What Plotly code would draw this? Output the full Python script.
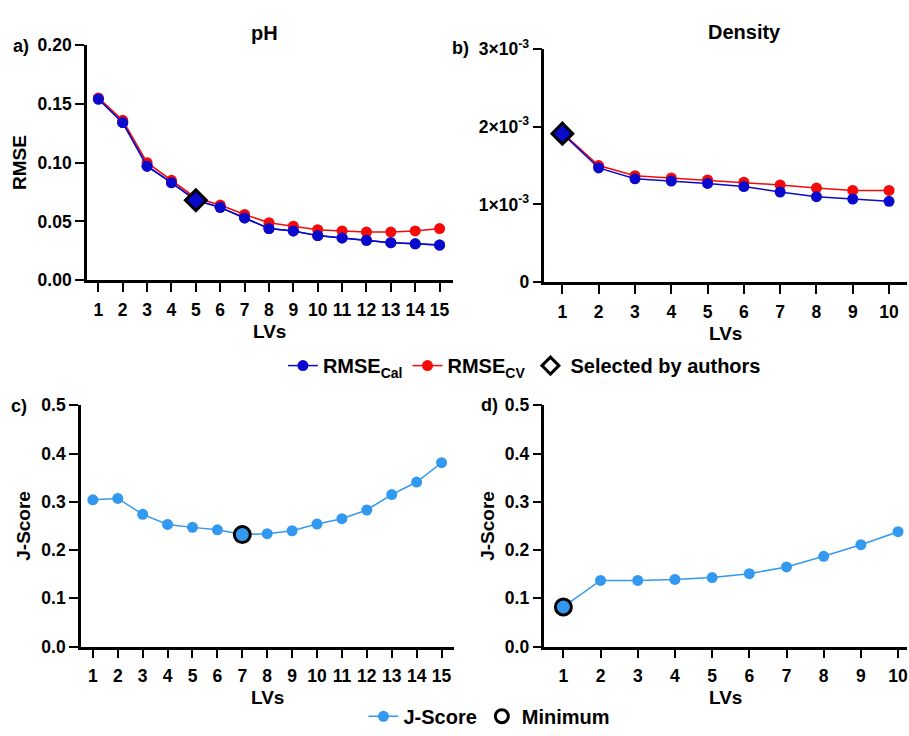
import plotly.graph_objects as go

# ---------------- data ----------------
lv_ph = list(range(1, 16))
rmse_cal_ph = [0.154, 0.134, 0.097, 0.083, 0.068, 0.062, 0.053, 0.044, 0.042, 0.038, 0.036, 0.034, 0.032, 0.031, 0.030]
rmse_cv_ph = [0.155, 0.136, 0.100, 0.085, 0.070, 0.064, 0.056, 0.049, 0.046, 0.043, 0.042, 0.041, 0.041, 0.042, 0.044]
selected_ph = 5

lv_den = list(range(1, 11))
rmse_cal_den = [1.91e-3, 1.47e-3, 1.33e-3, 1.30e-3, 1.27e-3, 1.23e-3, 1.16e-3, 1.10e-3, 1.07e-3, 1.04e-3]
rmse_cv_den = [1.92e-3, 1.50e-3, 1.37e-3, 1.34e-3, 1.315e-3, 1.286e-3, 1.25e-3, 1.21e-3, 1.18e-3, 1.18e-3]
selected_den = 1

jscore_ph = [0.304, 0.307, 0.274, 0.253, 0.247, 0.242, 0.232, 0.234, 0.240, 0.254, 0.265, 0.283, 0.315, 0.341, 0.381]
jscore_den = [0.082, 0.137, 0.137, 0.139, 0.143, 0.151, 0.165, 0.187, 0.211, 0.238]

den_ticks = [0, 1e-3, 2e-3, 3e-3]
den_ticktext = ["0", "1×10<sup>-3</sup>", "2×10<sup>-3</sup>", "3×10<sup>-3</sup>"]

# ---------------- style ----------------
BLUE = "#0a0acc"
RED = "#f50a0a"
LBLUE = "#3399f0"
FONT = "Liberation Sans"
W, H = 909, 736

def px_x(p):
    return p / W

def px_y(p):
    return 1 - p / H

fig = go.Figure()

# panel a
fig.add_trace(go.Scatter(x=lv_ph, y=rmse_cal_ph, mode="lines+markers", name="<b>RMSE<sub>Cal</sub></b>",
                         line=dict(color=BLUE, width=1.5), marker=dict(color=BLUE, size=11),
                         xaxis="x", yaxis="y", legend="legend", legendrank=1))
fig.add_trace(go.Scatter(x=lv_ph, y=rmse_cv_ph, mode="lines+markers", name="<b>RMSE<sub>CV</sub></b>",
                         line=dict(color=RED, width=1.5), marker=dict(color=RED, size=11),
                         xaxis="x", yaxis="y", legend="legend", legendrank=2))
fig.add_trace(go.Scatter(x=lv_ph, y=rmse_cal_ph, mode="lines+markers", showlegend=False,
                         line=dict(color=BLUE, width=1.5), marker=dict(color=BLUE, size=11),
                         xaxis="x", yaxis="y"))
fig.add_trace(go.Scatter(x=[selected_ph], y=[rmse_cal_ph[lv_ph.index(selected_ph)]], mode="markers", showlegend=False,
                         marker=dict(symbol="diamond", color=BLUE, size=16, line=dict(color="black", width=3)),
                         xaxis="x", yaxis="y"))

# panel b
fig.add_trace(go.Scatter(x=lv_den, y=rmse_cv_den, mode="lines+markers", showlegend=False,
                         line=dict(color=RED, width=1.5), marker=dict(color=RED, size=11),
                         xaxis="x2", yaxis="y2"))
fig.add_trace(go.Scatter(x=lv_den, y=rmse_cal_den, mode="lines+markers", showlegend=False,
                         line=dict(color=BLUE, width=1.5), marker=dict(color=BLUE, size=11),
                         xaxis="x2", yaxis="y2"))
fig.add_trace(go.Scatter(x=[selected_den], y=[rmse_cal_den[lv_den.index(selected_den)]], mode="markers", showlegend=False,
                         marker=dict(symbol="diamond", color=BLUE, size=16, line=dict(color="black", width=3)),
                         xaxis="x2", yaxis="y2"))
# legend entry for selected
fig.add_trace(go.Scatter(x=[None], y=[None], mode="markers", name="<b>Selected by authors</b>",
                         marker=dict(symbol="diamond-open", color="black", size=13, line=dict(color="black", width=3)),
                         xaxis="x2", yaxis="y2", legend="legend", legendrank=3))

# panel c
fig.add_trace(go.Scatter(x=lv_ph, y=jscore_ph, mode="lines+markers", name="<b>J-Score</b>",
                         line=dict(color=LBLUE, width=1.5), marker=dict(color=LBLUE, size=11),
                         xaxis="x3", yaxis="y3", legend="legend2", legendrank=1))
i_min_c = jscore_ph.index(min(jscore_ph))
fig.add_trace(go.Scatter(x=[lv_ph[i_min_c]], y=[jscore_ph[i_min_c]], mode="markers", showlegend=False,
                         marker=dict(symbol="circle", color=LBLUE, size=16, line=dict(color="black", width=3)),
                         xaxis="x3", yaxis="y3"))

# panel d
fig.add_trace(go.Scatter(x=lv_den, y=jscore_den, mode="lines+markers", showlegend=False,
                         line=dict(color=LBLUE, width=1.5), marker=dict(color=LBLUE, size=11),
                         xaxis="x4", yaxis="y4"))
i_min_d = jscore_den.index(min(jscore_den))
fig.add_trace(go.Scatter(x=[lv_den[i_min_d]], y=[jscore_den[i_min_d]], mode="markers", showlegend=False,
                         marker=dict(symbol="circle", color=LBLUE, size=16, line=dict(color="black", width=3)),
                         xaxis="x4", yaxis="y4"))
fig.add_trace(go.Scatter(x=[None], y=[None], mode="markers", name="<b>Minimum</b>",
                         marker=dict(symbol="circle-open", color="black", size=13, line=dict(color="black", width=3)),
                         xaxis="x4", yaxis="y4", legend="legend2", legendrank=2))

tickfont = dict(family=FONT, size=17.5, color="black")
titlefont = dict(family=FONT, size=19, color="black")

def xax(domain, rng, tickvals, anchor):
    return dict(domain=domain, range=rng, tickvals=tickvals, ticktext=[f"<b>{v}</b>" for v in tickvals],
                showline=True, linecolor="black", linewidth=2.5, ticks="outside", ticklen=9, tickwidth=2.2,
                tickcolor="black", showgrid=False, zeroline=False, tickfont=tickfont, anchor=anchor,
                ticklabelstandoff=3, ticklabeloverflow="allow",
                title=dict(text="<b>LVs</b>", font=titlefont, standoff=6), fixedrange=True)

def yax(domain, rng, tickvals, ticktext, anchor, title):
    return dict(domain=domain, range=rng, tickvals=tickvals, ticktext=[f"<b>{t}</b>" for t in ticktext],
                showline=True, linecolor="black", linewidth=2.5, ticks="outside", ticklen=9, tickwidth=2.2,
                tickcolor="black", showgrid=False, zeroline=False, tickfont=tickfont, anchor=anchor,
                ticklabeloverflow="allow",
                title=dict(text=f"<b>{title}</b>" if title else "", font=titlefont, standoff=6), fixedrange=True)

ph_yt = [0, 0.05, 0.10, 0.15, 0.20]
j_yt = [0, 0.1, 0.2, 0.3, 0.4, 0.5]

legfont = dict(family=FONT, size=20, color="black")

fig.update_layout(
    width=W, height=H, margin=dict(l=0, r=0, t=0, b=0),
    plot_bgcolor="white", paper_bgcolor="white",
    font=dict(family=FONT, color="black"),
    xaxis=xax([px_x(87), px_x(453)], [0.53, 15.53], lv_ph, "y"),
    yaxis=yax([px_y(277), px_y(34)], [0, 0.2], ph_yt, [f"{v:.2f}" for v in ph_yt], "x", "RMSE"),
    xaxis2=xax([px_x(545), px_x(908)], [0.505, 10.495], lv_den, "y2"),
    yaxis2=yax([px_y(279), px_y(38)], [0, 3e-3], den_ticks, den_ticktext, "x2", ""),
    xaxis3=xax([px_x(81), px_x(455)], [0.52, 15.52], lv_ph, "y3"),
    yaxis3=yax([px_y(655), px_y(406)], [0, 0.5], j_yt, [f"{v:.1f}" for v in j_yt], "x3", "J-Score"),
    xaxis4=xax([px_x(545), px_x(908)], [0.49, 10.24], lv_den, "y4"),
    yaxis4=yax([px_y(655), px_y(406)], [0, 0.5], j_yt, [f"{v:.1f}" for v in j_yt], "x4", "J-Score"),
    legend=dict(orientation="h", x=px_x(525), y=px_y(365), xanchor="center", yanchor="middle",
                font=legfont, bgcolor="rgba(0,0,0,0)", itemwidth=30, traceorder="normal"),
    legend2=dict(orientation="h", x=px_x(490), y=px_y(727), xanchor="center", yanchor="middle",
                 font=legfont, bgcolor="rgba(0,0,0,0)", itemwidth=30, traceorder="normal"),
    showlegend=True,
)

annots = [
    ("<b>pH</b>", 265, 22, 20),
    ("<b>Density</b>", 745, 21, 20),
    ("<b>a)</b>", 21, 35, 18),
    ("<b>b)</b>", 461, 37, 18),
    ("<b>c)</b>", 19, 407, 18),
    ("<b>d)</b>", 490, 406, 18),
]
for text, ax_, ay_, fs in annots:
    fig.add_annotation(text=text, x=px_x(ax_), y=px_y(ay_), xref="paper", yref="paper",
                       showarrow=False, xanchor="center", yanchor="middle",
                       font=dict(family=FONT, size=fs, color="black"))

fig.write_html("out.html")
